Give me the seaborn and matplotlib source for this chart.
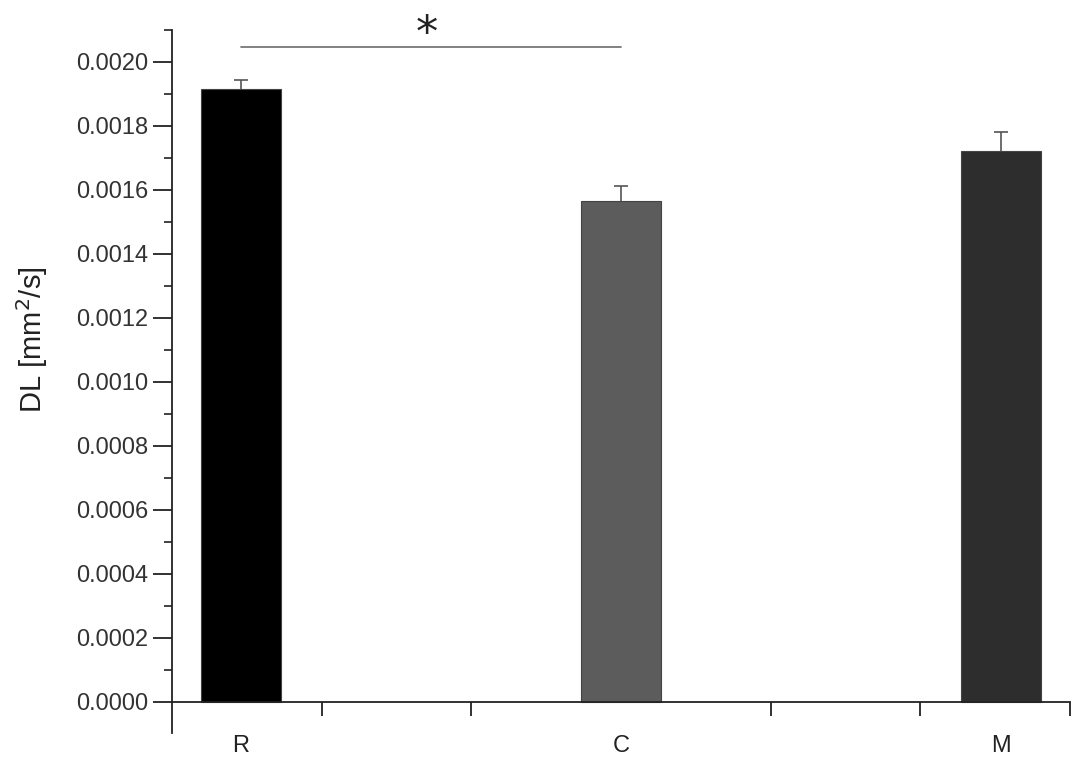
import numpy as np
import pandas as pd
import matplotlib
matplotlib.use("Agg")
import matplotlib.pyplot as plt
import seaborn as sns
from matplotlib.ticker import MultipleLocator, FixedLocator

categories = ["R", "C", "M"]
values = [0.001915, 0.001566, 0.001722]
errors = [0.000030, 0.000047, 0.000060]
bar_colors = ["#000000", "#5c5c5c", "#2d2d2d"]

sns.set_theme(style="white")
plt.rcParams['font.family'] = ['Liberation Sans', 'DejaVu Sans']

fig = plt.figure(figsize=(10.87, 7.68), dpi=100)
ax = fig.add_axes([172/1087, (768-733)/768, (1070-172)/1087, (733-30)/768])

df = pd.DataFrame({"group": categories, "DL": values})
sns.barplot(data=df, x="group", y="DL", hue="group", palette=bar_colors,
            width=0.21, legend=False, ax=ax, edgecolor="#444444", linewidth=0.8,
            errorbar=None, zorder=2)

xpos = np.arange(len(categories))
ax.errorbar(xpos, values, yerr=errors, fmt="none",
            ecolor="#555555", elinewidth=1.2, capsize=5, capthick=1.2, zorder=1)

xl = (-0.1816, 2.1816)
ax.set_xlim(*xl)
ax.set_ylim(-0.0000975, 0.0021)

for s in ["top", "right"]:
    ax.spines[s].set_visible(False)
ax.spines["bottom"].set_position(("data", 0))
for s in ["left", "bottom"]:
    ax.spines[s].set_color("#222222")
    ax.spines[s].set_linewidth(1.3)

ax.yaxis.set_minor_locator(MultipleLocator(0.0001))
yt = np.arange(0, 0.00201, 0.0002)
ax.set_yticks(yt)
ax.set_yticklabels([f"{v:.4f}" for v in yt])
ax.tick_params(axis="y", which="major", direction="out", length=14, width=1.3,
               color="#222222", labelsize=17, labelcolor="#333333", left=True, pad=3)
ax.tick_params(axis="y", which="minor", direction="out", length=6, width=1.2,
               color="#222222", left=True)

ax.set_xticks(xpos)
ax.set_xticklabels(categories)
ax.xaxis.set_minor_locator(FixedLocator(np.linspace(xl[0], xl[1], 7)[1:]))
ax.tick_params(axis="x", which="major", length=0, labelsize=17,
               labelcolor="#222222", pad=24)
ax.tick_params(axis="x", which="minor", direction="out", length=10, width=1.3,
               color="#222222", bottom=True)

ax.set_xlabel("")
ax.set_ylabel("DL [mm$^2$/s]", fontsize=21, color="#222222")
ax.yaxis.set_label_coords(-0.136, 0.559)

# significance annotation
ax.plot([0, 1], [0.002047, 0.002047], color="#777777", lw=1.3, clip_on=False)
ax.text(0.49, 0.002085, "*", ha="center", va="center", fontsize=32,
        color="#222222", family="DejaVu Sans")

fig.savefig("out.png", dpi=100, facecolor="white")
